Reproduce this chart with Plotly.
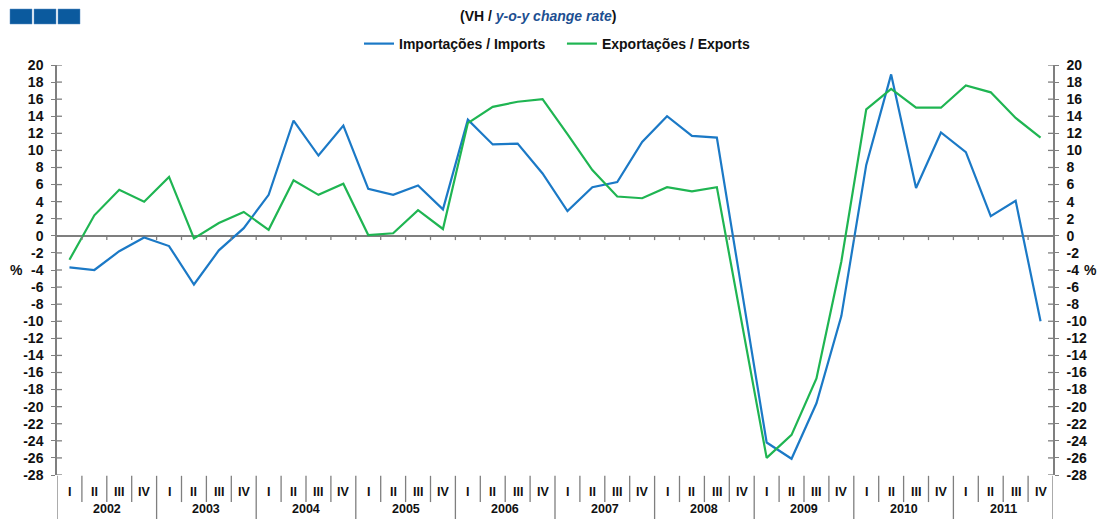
import plotly.graph_objects as go

years = ["2002", "2003", "2004", "2005", "2006", "2007", "2008", "2009", "2010", "2011"]
quarters = ["I", "II", "III", "IV"]

imports = [-3.7, -4.0, -1.8, -0.2,
           -1.2, -5.7, -1.7, 0.9,
           4.8, 13.5, 9.4, 12.9,
           5.5, 4.8, 5.9, 3.1,
           13.6, 10.7, 10.8, 7.3,
           2.9, 5.7, 6.3, 11.0,
           14.0, 11.7, 11.5, -6.3,
           -24.2, -26.1, -19.6, -9.4,
           8.3, 18.9, 5.6, 12.1,
           9.8, 2.3, 4.1, -10.0]

exports = [-2.8, 2.4, 5.4, 4.0,
           6.9, -0.3, 1.5, 2.8,
           0.7, 6.5, 4.8, 6.1,
           0.1, 0.3, 3.0, 0.8,
           13.2, 15.1, 15.7, 16.0,
           11.9, 7.7, 4.6, 4.4,
           5.7, 5.2, 5.7, -10.0,
           -26.0, -23.3, -16.7, -3.0,
           14.8, 17.2, 15.0, 15.0,
           17.6, 16.8, 13.8, 11.5]

labels = [f"{q} {y}" for y in years for q in quarters]
xs = list(range(len(labels)))

BLUE = "#1b79c6"
GREEN = "#1fb552"
AXIS = "#7f7f7f"
FONT = "Arial, Liberation Sans, sans-serif"
TXT = "#111111"

fig = go.Figure()
fig.add_trace(go.Scatter(x=xs, y=imports, mode="lines", name="<b>Importações / Imports</b>   ",
                         line=dict(color=BLUE, width=2.2), hovertext=labels))
fig.add_trace(go.Scatter(x=xs, y=exports, mode="lines", name="<b>Exportações / Exports</b>",
                         line=dict(color=GREEN, width=2.2), hovertext=labels))
# invisible trace to activate the right axis
fig.add_trace(go.Scatter(x=[xs[0]], y=[0], yaxis="y2", mode="lines", showlegend=False,
                         line=dict(width=0), hoverinfo="skip"))

yticks = list(range(-28, 21, 2))
yrange = [-28, 20]
tickfont = dict(family=FONT, size=14, color=TXT, weight="bold")

shapes = []
annotations = []

# separators below the plot and ticks on the zero line
for i in range(len(xs) + 1):
    b = i - 0.5
    is_year = (i % 4 == 0)
    shapes.append(dict(type="line", xref="x", yref="paper", x0=b, x1=b,
                       y0=-0.002, y1=(-0.11 if is_year else -0.066),
                       line=dict(color=AXIS, width=1.3)))
    if 0 < i < len(xs):
        shapes.append(dict(type="line", xref="x", yref="y", x0=b, x1=b, y0=0, y1=-0.5,
                           line=dict(color=AXIS, width=1.3)))

# inner halves of the axis ticks (cross ticks)
for v in yticks:
    shapes.append(dict(type="line", xref="paper", yref="y", x0=0, x1=0.005, y0=v, y1=v,
                       line=dict(color=AXIS, width=1.3)))
    shapes.append(dict(type="line", xref="paper", yref="y", x0=0.995, x1=1, y0=v, y1=v,
                       line=dict(color=AXIS, width=1.3)))

# logo blocks
for k in range(3):
    x0 = 10 + k * 24
    shapes.append(dict(type="rect", xref="paper", yref="paper",
                       x0=(x0 - 57) / 996, x1=(x0 + 22 - 57) / 996,
                       y0=(475 - 24) / 410, y1=(475 - 9) / 410,
                       fillcolor="#0b5a9e", line=dict(color="#5b8fc0", width=0.5)))

# quarter labels
for i, lab in enumerate(labels):
    q = lab.split()[0]
    annotations.append(dict(x=i, y=-0.041, xref="x", yref="paper", text=f"<b>{q}</b>",
                            showarrow=False, font=dict(family=FONT, size=12.5, color=TXT),
                            xanchor="center", yanchor="middle"))
# year labels
for j, y in enumerate(years):
    annotations.append(dict(x=j * 4 + 1.5, y=-0.106, xref="x", yref="paper", text=f"<b>{y}</b>",
                            showarrow=False, font=dict(family=FONT, size=12.5, color=TXT),
                            xanchor="center", yanchor="bottom"))

# % labels
annotations.append(dict(x=(8 - 57) / 996, y=-4, xref="paper", yref="y", text="<b>%</b>",
                        showarrow=False, font=dict(family=FONT, size=14, color=TXT),
                        xanchor="left"))
annotations.append(dict(x=(1099 - 57) / 996, y=-4, xref="paper", yref="y", text="<b>%</b>",
                        showarrow=False, font=dict(family=FONT, size=14, color=TXT),
                        xanchor="right"))

# title
annotations.append(dict(x=(538 - 57) / 996, y=(475 - 16) / 410, xref="paper", yref="paper",
                        text="<b>(VH / <i><span style='color:#1d4f91'>y-o-y change rate</span></i>)</b>",
                        showarrow=False, font=dict(family=FONT, size=14, color=TXT),
                        xanchor="center", yanchor="middle"))

fig.update_layout(
    width=1099, height=519,
    margin=dict(l=57, r=46, t=65, b=44),
    paper_bgcolor="white", plot_bgcolor="white",
    showlegend=True,
    legend=dict(orientation="h", x=(557 - 57) / 996, xanchor="center",
                y=(475 - 44) / 410, yanchor="middle",
                font=dict(family=FONT, size=14, color=TXT),
                itemwidth=30, tracegroupgap=0, bgcolor="rgba(0,0,0,0)"),
    xaxis=dict(range=[-0.5, len(xs) - 0.5], showgrid=False, zeroline=False,
               showticklabels=False, ticks="", showline=False, fixedrange=True),
    yaxis=dict(range=yrange, tickvals=yticks, ticktext=[str(v) for v in yticks],
               showgrid=False, zeroline=True, zerolinecolor=AXIS, zerolinewidth=1.5,
               showline=True, linecolor=AXIS, linewidth=1.5,
               ticks="outside", ticklen=4, tickwidth=1.3, tickcolor=AXIS,
               tickfont=tickfont, ticklabelstandoff=5),
    yaxis2=dict(range=yrange, tickvals=yticks, ticktext=[str(v) for v in yticks],
                overlaying="y", side="right", showgrid=False, zeroline=False,
                showline=True, linecolor=AXIS, linewidth=1.5,
                ticks="outside", ticklen=4, tickwidth=1.3, tickcolor=AXIS,
                tickfont=tickfont, ticklabelstandoff=5),
    shapes=shapes,
    annotations=annotations,
)

fig.write_html("out.html", config={"displayModeBar": False},
               post_script="document.body.style.margin='0';document.body.style.padding='0';")
